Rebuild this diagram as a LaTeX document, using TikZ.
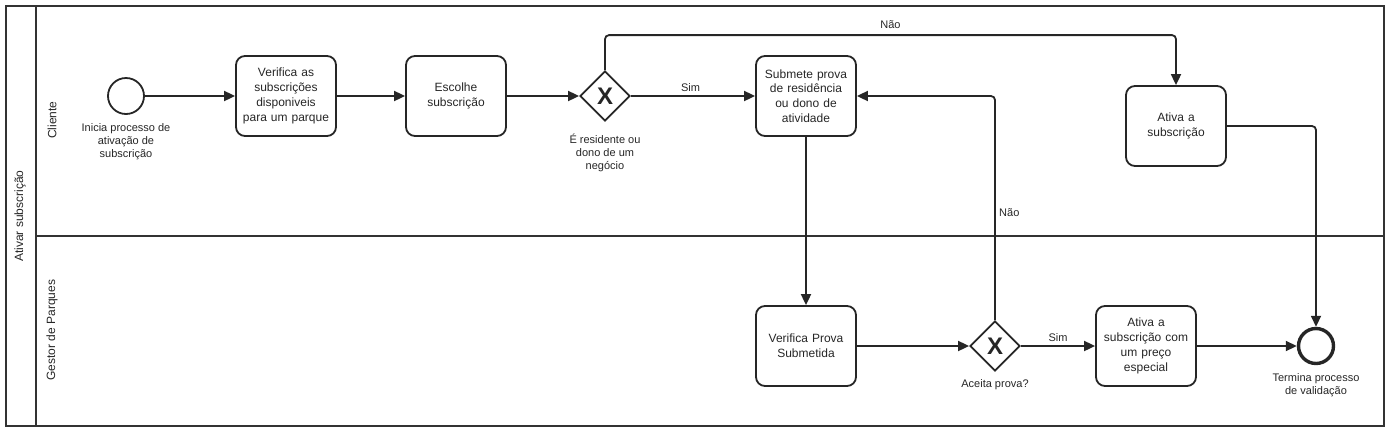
\documentclass[tikz,border=0pt]{standalone}
\usepackage{fontspec}
\setmainfont{Liberation Sans}
\usetikzlibrary{shapes.geometric,arrows.meta}
\begin{document}
\begin{tikzpicture}[x=1pt,y=-1pt,
  line/.style={draw=black!85, line width=1.8pt},
  flow/.style={line, -{Triangle[length=11pt,width=10pt]}, rounded corners=4pt},
  task/.style={draw=black!85, line width=1.8pt, rounded corners=9pt, minimum width=100pt, minimum height=80pt, text width=96pt, align=center, font=\fontsize{12}{14.8}\selectfont, inner sep=2pt, text=black!85},
  gw/.style={diamond, draw=black!85, line width=1.8pt, minimum width=50pt, minimum height=50pt, inner sep=0pt, font=\fontsize{24}{24}\selectfont\bfseries, text=black!85},
  lbl/.style={font=\fontsize{11}{13}\selectfont, align=center, text=black!85},
  lane/.style={rotate=90, font=\fontsize{12}{14}\selectfont, text=black!85},
  pool/.style={draw=black!80, line width=1.5pt}
  ]
\useasboundingbox (0,0) rectangle (1390,432);
% pool and lanes
\draw[pool] (6,6) rectangle (1384,426);
\draw[pool] (36,6) -- (36,426);
\draw[pool] (36,236) -- (1384,236);
\node[lane] (poolname) at (20,216) {Ativar subscrição};
\node[lane] (lane1) at (52,120) {Cliente};
\node[lane] (lane2) at (52,330) {Gestor de Parques};
% events
\node[circle, draw=black!85, line width=1.8pt, minimum size=36pt, inner sep=0pt] (start) at (126,96) {};
\node[lbl, anchor=north] (startlbl) at (126,120) {Inicia processo de\\ativação de\\subscrição};
\node[circle, draw=black!85, line width=3.4pt, minimum size=35pt, inner sep=0pt] (end) at (1316,346) {};
\node[lbl, anchor=north] (endlbl) at (1316,370) {Termina processo\\de validação};
% tasks
\node[task] (t1) at (286,96) {Verifica as\\subscrições\\disponiveis\\para um parque};
\node[task] (t2) at (456,96) {Escolhe\\subscrição};
\node[task] (t3) at (806,96) {Submete prova\\de residência\\ou dono de\\atividade};
\node[task] (t4) at (1176,126) {Ativa a\\subscrição};
\node[task] (t5) at (806,346) {Verifica Prova\\Submetida};
\node[task] (t6) at (1146,346) {Ativa a\\subscrição com\\um preço\\especial};
% gateways
\node[gw] (g1) at (605,96) {X};
\node[lbl, anchor=north] (g1lbl) at (605,130) {É residente ou\\dono de um\\negócio};
\node[gw] (g2) at (995,346) {X};
\node[lbl, anchor=north] (g2lbl) at (995,376) {Aceita prova?};
% flows
\draw[flow] (start) -- (t1);
\draw[flow] (t1) -- (t2);
\draw[flow] (t2) -- (g1);
\draw[flow] (g1) -- node[lbl, above, pos=0.48] {Sim} (t3);
\draw[flow] (g1.north) -- ++(0,-35) -| node[lbl, above, pos=0.25, yshift=2pt] {Não} (t4.north);
\draw[flow] (t3) -- (t5);
\draw[flow] (t5) -- (g2);
\draw[flow] (g2.north) |- node[lbl, right, pos=0.24] {Não} (t3.east);
\draw[flow] (g2) -- node[lbl, above] {Sim} (t6);
\draw[flow] (t6) -- (end);
\draw[flow] (t4.east) -| (end.north);
\end{tikzpicture}
\end{document}
